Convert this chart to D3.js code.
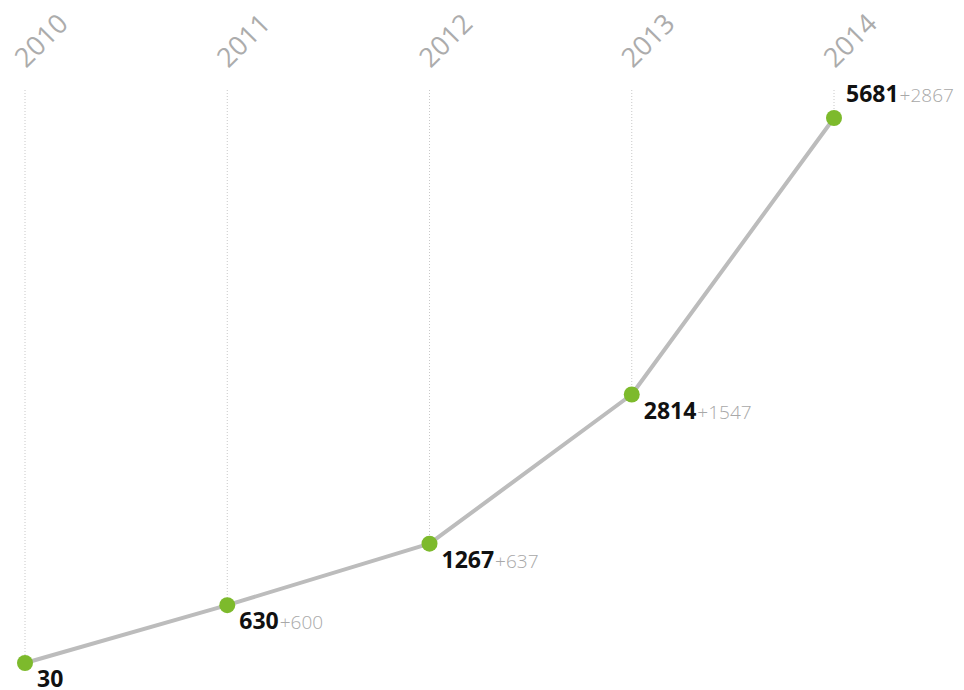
<!DOCTYPE html>
<html>
<head>
<meta charset="utf-8">
<script src="https://cdn.jsdelivr.net/npm/d3@7"></script>
<style>
  body { margin: 0; background: #fff; }
  svg { display: block; }
</style>
</head>
<body>
<div id="chart"></div>
<script>
var width = 964;
var height = 690;

// data
var years = ["2010", "2011", "2012", "2013", "2014"];
var totals = [30, 630, 1267, 2814, 5681];
var deltas = [null, 600, 637, 1547, 2867];

var data = years.map(function (y, i) {
  return { year: y, total: totals[i], delta: deltas[i] };
});

let svg = d3.select("#chart")
  .append("svg")
  .attr("width", width)
  .attr("height", height);

let x = d3.scalePoint()
  .domain(years)
  .range([25, 834]);

let y = d3.scaleLinear()
  .domain([30, 5681])
  .range([663, 118]);

// dotted guides from the year label down to each point
svg.append("g")
  .selectAll("line")
  .data(data)
  .enter()
  .append("line")
    .attr("x1", function (d) { return x(d.year); })
    .attr("x2", function (d) { return x(d.year); })
    .attr("y1", 90)
    .attr("y2", function (d) { return y(d.total); })
    .attr("stroke", "#c8c8c8")
    .attr("stroke-width", 1)
    .attr("stroke-dasharray", "1,2");

// year labels, tilted
svg.append("g")
  .selectAll("text")
  .data(data)
  .enter()
  .append("text")
    .attr("transform", function (d) { return "translate(" + (x(d.year) + 1) + ",69) rotate(-45)"; })
    .style("font-family", "'Open Sans', sans-serif")
    .style("font-weight", 400)
    .style("font-size", "27px")
    .style("fill", "#acacac")
    .text(function (d) { return d.year; });

var line = d3.line()
  .x(function (d) { return x(d.year); })
  .y(function (d) { return y(d.total); });

svg.append("path")
  .datum(data)
  .attr("d", line)
  .attr("fill", "none")
  .attr("stroke", "#bcbcbc")
  .attr("stroke-width", 4)
  .attr("stroke-linejoin", "round");

svg.append("g")
  .selectAll("circle")
  .data(data)
  .enter()
  .append("circle")
    .attr("cx", function (d) { return x(d.year); })
    .attr("cy", function (d) { return y(d.total); })
    .attr("r", 8)
    .style("fill", "#7dba2c");

// value labels: last one sits above the point, the rest below
let labels = svg.append("g")
  .selectAll("text")
  .data(data)
  .enter()
  .append("text")
    .attr("x", function (d) { return x(d.year) + 12; })
    .attr("y", function (d, i) { return i === data.length - 1 ? y(d.total) - 16 : y(d.total) + 24; })
    .style("font-family", "'Open Sans', sans-serif");

labels.append("tspan")
  .style("font-weight", 700)
  .style("font-size", "23px")
  .style("fill", "#111")
  .text(function (d) { return d.total; });

labels.filter(function (d) { return d.delta !== null; })
  .append("tspan")
  .attr("dx", 1)
  .style("font-weight", 300)
  .style("font-size", "19px")
  .style("fill", "#a8a8a8")
  .text(function (d) { return "+" + d.delta; });
</script>
</body>
</html>
